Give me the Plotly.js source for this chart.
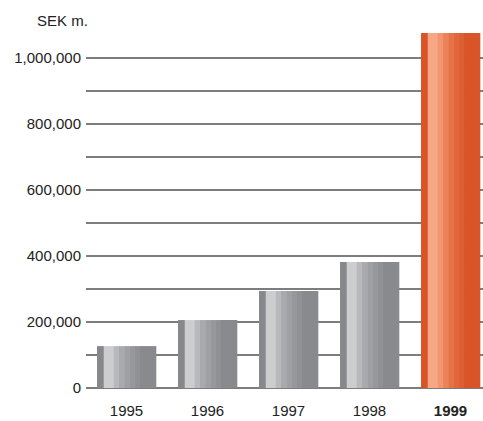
<!DOCTYPE html>
<html><head><meta charset="utf-8">
<script src="https://cdn.plot.ly/plotly-3.0.1.min.js"></script>
<style>html,body{margin:0;padding:0;background:#fff}#chart{width:483px;height:421px}</style>
</head><body><div id="chart"></div>
<script>
const years = ["1995", "1996", "1997", "1998", "1999"];
const yearLabels = ["1995", "1996", "1997", "1998", "<b>1999</b>"];
const values = [127000, 206000, 294000, 382000, 1076000];
const yTickVals = [0, 200000, 400000, 600000, 800000, 1000000];
const yTickText = ["0", "200,000", "400,000", "600,000", "800,000", "1,000,000"];

// stripe styling (fractions of bar width and colours)
const stripeEdges = [0, 6.7, 16.7, 22, 27.7, 33, 38, 43, 59];
const grayStripes = ["#87888c", "#cdcdd0", "#b8b9bc", "#a9aaad", "#9fa0a3", "#97989b", "#909194", "#898a8e"];
const orangeStripes = ["#d95427", "#f6a785", "#f29570", "#ec8258", "#e67248", "#e2663b", "#de5e33", "#da542a"];
const barW = 0.728;
const total = stripeEdges[stripeEdges.length - 1];

const traces = [];
for (let i = 0; i < grayStripes.length; i++) {
  const start = stripeEdges[i] / total * barW;
  const w = (stripeEdges[i + 1] - stripeEdges[i]) / total * barW;
  traces.push({
    type: "bar",
    x: years,
    y: values,
    offset: -barW / 2 + start,
    width: w + 0.004,
    marker: { color: years.map((y, k) => k === years.length - 1 ? orangeStripes[i] : grayStripes[i]), line: { width: 0 } },
    hoverinfo: "x+y",
    showlegend: false
  });
}

const layout = {
  width: 483, height: 421,
  margin: { l: 86, r: 0, t: 33, b: 33 },
  paper_bgcolor: "#fff", plot_bgcolor: "#fff",
  barmode: "overlay",
  font: { family: "Liberation Sans, Arial, sans-serif", size: 15, color: "#222" },
  xaxis: {
    type: "category",
    range: [-0.5, 4.401],
    tickvals: years, ticktext: yearLabels,
    showgrid: false, zeroline: false, showline: false, ticks: "",
    ticklabelstandoff: 12,
    fixedrange: true
  },
  yaxis: {
    range: [-1, 1076000],
    tickvals: yTickVals, ticktext: yTickText,
    showgrid: true, gridcolor: "#7d7d7d", gridwidth: 2,
    zeroline: true, zerolinecolor: "#7d7d7d", zerolinewidth: 2,
    showline: false, ticks: "",
    ticklabelstandoff: 4,
    minor: { dtick: 100000, tick0: 0, showgrid: true, gridcolor: "#7d7d7d", gridwidth: 2 },
    fixedrange: true
  },
  annotations: [{
    text: "SEK m.", xref: "paper", yref: "paper",
    x: -0.128, y: 1.034, xanchor: "left", yanchor: "middle",
    showarrow: false, font: { size: 15, color: "#222" }
  }]
};
Plotly.newPlot("chart", traces, layout, { displayModeBar: false, staticPlot: true });
</script></body></html>
